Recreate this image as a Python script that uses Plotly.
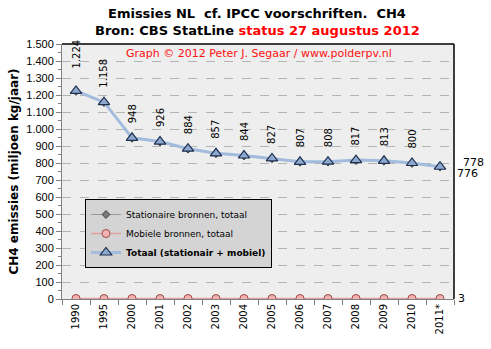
import plotly.graph_objects as go

# CH4 emissions in the Netherlands (miljoen kg/jaar), CBS StatLine
years = ["1990", "1995", "2000", "2001", "2002", "2003", "2004", "2005",
         "2006", "2007", "2008", "2009", "2010", "2011*"]
totaal = [1224, 1158, 948, 926, 884, 857, 844, 827, 807, 808, 817, 813, 800, 778]
stationair = [1221, 1155, 945, 923, 881, 854, 841, 824, 804, 805, 814, 810, 797, 776]
mobiel = [3, 3, 3, 3, 3, 3, 3, 3, 3, 3, 3, 3, 3, 3]

y_ticks = list(range(0, 1501, 100))

FONT = "DejaVu Sans"

W, H = 491, 349
L, R, T, B = 62, 37, 44, 50
pw, ph = W - L - R, H - T - B


def nl_int(v):
    return f"{v:,}".replace(",", ".")


def px_x(x):
    return (x - L) / pw


def px_y(y):
    return (H - B - y) / ph


fig = go.Figure()

fig.add_trace(go.Scatter(
    x=years, y=stationair, mode="lines+markers",
    name="Stationaire bronnen, totaal", legendgroup="a",
    line=dict(color="#9a9a9a", width=1),
    marker=dict(symbol="diamond", size=6, color="#7a7a7a",
                line=dict(color="#404040", width=1)),
))
fig.add_trace(go.Scatter(
    x=years, y=mobiel, mode="lines+markers",
    name="Mobiele bronnen, totaal", legendgroup="b",
    line=dict(color="#e4a0a0", width=1.5),
    marker=dict(symbol="circle", size=8, color="#f2b3b3",
                line=dict(color="#a04848", width=1)),
))
fig.add_trace(go.Scatter(
    x=years, y=totaal, mode="lines+markers",
    name="<b>Totaal (stationair + mobiel)</b>", legendgroup="c",
    line=dict(color="#a3bcdd", width=3),
    marker=dict(symbol="triangle-up", size=10, color="#8ea9cf",
                line=dict(color="#1f3050", width=1.2)),
))

annotations = []
# rotated value labels above the total series (last point labelled at the right);
# x is the category index on the category axis
for i, v in enumerate(totaal[:-1]):
    annotations.append(dict(
        x=i, y=v, xref="x", yref="y", text=nl_int(v), textangle=-90,
        showarrow=False, yanchor="bottom", xanchor="center",
        yshift=20 if i == 0 else 12,
        font=dict(family=FONT, size=10, color="black"),
    ))

# end-of-series labels to the right of the plot
annotations.append(dict(x=1.0, y=totaal[-1], xref="paper", yref="y",
                        text=str(totaal[-1]), showarrow=False, xanchor="left",
                        xshift=7, yshift=4,
                        font=dict(family=FONT, size=11, color="black")))
annotations.append(dict(x=1.0, y=stationair[-1], xref="paper", yref="y",
                        text=str(stationair[-1]), showarrow=False, xanchor="left",
                        xshift=1, yshift=-6,
                        font=dict(family=FONT, size=11, color="black")))
annotations.append(dict(x=1.0, y=mobiel[-1], xref="paper", yref="y",
                        text=str(mobiel[-1]), showarrow=False, xanchor="left",
                        xshift=2,
                        font=dict(family=FONT, size=11, color="black")))

# titles and credit line
annotations.append(dict(x=px_x(257), y=px_y(14), xref="paper", yref="paper",
                        xanchor="center", yanchor="middle",
                        text="<b>Emissies NL  cf. IPCC voorschriften.  CH4</b>",
                        showarrow=False,
                        font=dict(family=FONT, size=13, color="black")))
annotations.append(dict(x=px_x(257), y=px_y(31), xref="paper", yref="paper",
                        xanchor="center", yanchor="middle",
                        text="<b>Bron: CBS StatLine <span style='color:#ff0000'>status 27 augustus 2012</span></b>",
                        showarrow=False,
                        font=dict(family=FONT, size=13, color="black")))
annotations.append(dict(x=px_x(259), y=px_y(53), xref="paper", yref="paper",
                        xanchor="center", yanchor="middle",
                        text="Graph © 2012 Peter J. Segaar / www.polderpv.nl",
                        showarrow=False,
                        font=dict(family=FONT, size=11, color="#ff1010")))

fig.update_layout(
    width=W, height=H,
    margin=dict(l=L, r=R, t=T, b=B, pad=0),
    paper_bgcolor="white",
    plot_bgcolor="#eeeeee",
    separators=",.",
    font=dict(family=FONT, size=10, color="black"),
    showlegend=True,
    legend=dict(
        x=px_x(85), y=px_y(199), xanchor="left", yanchor="top",
        bgcolor="#d4d4d4", bordercolor="black", borderwidth=1,
        font=dict(family=FONT, size=9, color="black"),
        traceorder="grouped", tracegroupgap=0,
        itemwidth=30,
    ),
    annotations=annotations,
    shapes=[
        dict(type="line", xref="paper", yref="paper", x0=0, x1=1, y0=1, y1=1,
             line=dict(color="black", width=1.5)),
        dict(type="line", xref="paper", yref="paper", x0=1, x1=1, y0=0, y1=1,
             line=dict(color="black", width=1.5)),
    ],
)

fig.update_xaxes(
    type="category", categoryorder="array", categoryarray=years,
    range=[-0.5, len(years) - 0.5],
    showgrid=False, showline=True, linecolor="#808080", linewidth=1,
    ticks="outside", tickson="boundaries", ticklen=5, tickcolor="#808080",
    tickangle=-90, tickfont=dict(family=FONT, size=10, color="black"),
    zeroline=False,
)
fig.update_yaxes(
    range=[0, 1500], tickvals=y_ticks, tickformat=",d",
    showgrid=True, gridcolor="#b4b4b4", griddash="dash", gridwidth=1,
    showline=True, linecolor="#808080", linewidth=1,
    ticks="outside", ticklen=5, tickcolor="#808080",
    minor=dict(dtick=50, ticks="outside", ticklen=3, tickcolor="#808080", showgrid=False),
    tickfont=dict(family="Liberation Sans", size=11, color="black"),
    zeroline=False,
    title=dict(text="<b>CH4 emissies (miljoen kg/jaar)</b>", standoff=5,
               font=dict(family=FONT, size=12, color="black")),
)

fig.write_html("out.html")
